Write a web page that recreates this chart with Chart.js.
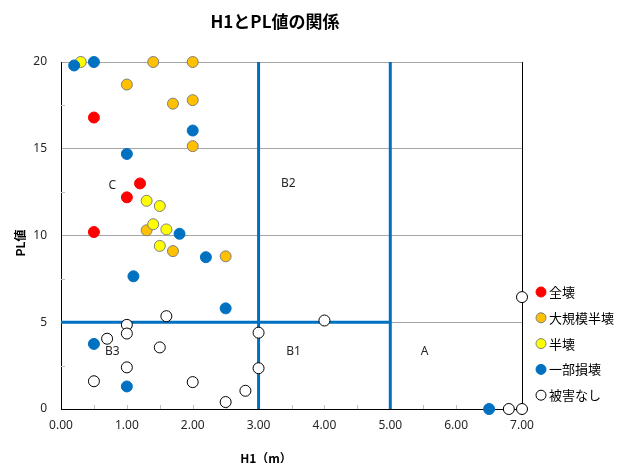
<!DOCTYPE html>
<html lang="ja">
<head>
<meta charset="utf-8">
<script src="https://cdn.jsdelivr.net/npm/chart.js@4/dist/chart.umd.min.js"></script>
<style>
  html, body { margin: 0; padding: 0; background: #fff; }
  #wrap { width: 625px; height: 463px; position: relative; }
</style>
</head>
<body>
<div id="wrap"><canvas id="c"></canvas></div>
<script>
// H1 (m) vs PL value, grouped by damage level
const seriesNames = ['全壊', '大規模半壊', '半壊', '一部損壊', '被害なし'];

const zenkai = [[0.5, 16.8], [1.2, 13.0], [1.0, 12.2], [0.5, 10.2]];
const daikiboHankai = [[1.4, 20], [2.0, 20], [1.0, 18.7], [1.7, 17.6], [2.0, 17.8], [2.0, 15.15], [1.3, 10.3], [1.7, 9.1], [2.5, 8.8]];
const hankai = [[0.3, 20], [1.3, 12.0], [1.5, 11.7], [1.4, 10.65], [1.6, 10.35], [1.5, 9.4]];
const ichibuSonkai = [[0.2, 19.8], [0.5, 20], [2.0, 16.05], [1.0, 14.7], [1.8, 10.1], [2.2, 8.75], [1.1, 7.65], [2.5, 5.8], [0.5, 3.75], [1.0, 1.3], [6.5, 0]];
const higaiNashi = [[1.6, 5.35], [1.0, 4.85], [1.0, 4.35], [0.7, 4.05], [1.5, 3.55], [3.0, 4.4], [1.0, 2.4], [3.0, 2.35], [0.5, 1.6], [2.0, 1.55], [2.8, 1.05], [2.5, 0.4], [4.0, 5.1], [7.0, 6.45], [6.8, 0], [7.0, 0]];

// zone boundaries (H1 = 3, H1 = 5, PL = 5)
const boundaryH1_3 = [[3, 0], [3, 20]];
const boundaryH1_5 = [[5, 0], [5, 20]];
const boundaryPL_5 = [[0, 5], [5, 5]];

// zone labels
const zoneLabels = [['C', 0.78, 12.9], ['B2', 3.45, 13.0], ['B3', 0.78, 3.3], ['B1', 3.53, 3.3], ['A', 5.52, 3.3]];

// axis ticks
const xTicks = [0, 1, 2, 3, 4, 5, 6, 7];
const yTicks = [0, 5, 10, 15, 20];

const fills = ['#FF0000', '#FFC000', '#FFFF00', '#0070C0', '#FFFFFF'];
const strokes = ['#FF0000', '#7F7F7F', '#7F7F7F', '#0070C0', '#000000'];
const seriesData = [zenkai, daikiboHankai, hankai, ichibuSonkai, higaiNashi];

const toPts = arr => arr.map(([x, y]) => ({ x, y }));

const pointSets = seriesData.map((d, i) => ({
  label: seriesNames[i],
  data: toPts(d),
  backgroundColor: fills[i],
  borderColor: strokes[i],
  borderWidth: 1,
  pointRadius: 5.5,
  pointHoverRadius: 5.5,
  showLine: false,
  clip: false,
  order: 5 - i
}));

const lineSets = [boundaryH1_3, boundaryH1_5, boundaryPL_5].map(d => ({
  label: '',
  data: toPts(d),
  borderColor: '#0070C0',
  backgroundColor: '#0070C0',
  borderWidth: 3,
  pointRadius: 0,
  showLine: true,
  clip: false,
  order: 20
}));

const JP = '"Noto Sans CJK JP", "Noto Sans", sans-serif';

const overlay = {
  id: 'overlay',
  beforeDatasetsDraw(chart) {
    const { ctx, scales: { x, y } } = chart;
    ctx.save();
    ctx.strokeStyle = '#BFBFBF';
    ctx.lineWidth = 1;
    // minor tick marks
    for (let v = 0.5; v < 7; v += 0.5) {
      const px = Math.round(x.getPixelForValue(v)) + 0.5;
      ctx.beginPath();
      ctx.moveTo(px, y.bottom - 4);
      ctx.lineTo(px, y.bottom);
      ctx.stroke();
    }
    for (let v = 2.5; v < 20; v += 5) {
      const py = Math.round(y.getPixelForValue(v)) + 0.5;
      ctx.beginPath();
      ctx.moveTo(x.left, py);
      ctx.lineTo(x.left + 4, py);
      ctx.stroke();
    }
    // zone labels
    ctx.fillStyle = '#262626';
    ctx.font = '12px "Noto Sans", sans-serif';
    ctx.textAlign = 'center';
    ctx.textBaseline = 'middle';
    zoneLabels.forEach(([t, vx, vy]) => {
      ctx.fillText(t, x.getPixelForValue(vx), y.getPixelForValue(vy));
    });
    ctx.restore();
  },
  afterDraw(chart) {
    const { ctx, chartArea: a } = chart;
    ctx.save();
    ctx.fillStyle = '#000';
    // title
    ctx.font = 'bold 17px ' + JP;
    ctx.textAlign = 'center';
    ctx.textBaseline = 'middle';
    ctx.fillText('H1とPL値の関係', 275, 22);
    // axis titles
    ctx.font = 'bold 12px ' + JP;
    ctx.fillText('H1（m）', 266, 458);
    ctx.save();
    ctx.translate(20, 243);
    ctx.rotate(-Math.PI / 2);
    ctx.fillText('PL値', 0, 0);
    ctx.restore();
    // legend
    const ly0 = 292, step = 25.8;
    ctx.font = '13px ' + JP;
    ctx.textAlign = 'left';
    seriesNames.forEach((name, i) => {
      const cy = ly0 + i * step;
      ctx.beginPath();
      ctx.arc(541, cy, 5, 0, Math.PI * 2);
      ctx.fillStyle = fills[i];
      ctx.fill();
      ctx.lineWidth = 1;
      ctx.strokeStyle = strokes[i];
      ctx.stroke();
      ctx.fillStyle = '#000';
      ctx.fillText(name, 549, cy);
    });
    ctx.restore();
  }
};

new Chart(document.getElementById('c'), {
  type: 'scatter',
  data: { datasets: [...pointSets, ...lineSets] },
  options: {
    responsive: true,
    maintainAspectRatio: false,
    animation: false,
    layout: { padding: { left: 0, top: 62, right: 103, bottom: 0 } },
    plugins: {
      legend: { display: false },
      title: { display: false },
      tooltip: { enabled: false }
    },
    scales: {
      x: {
        type: 'linear',
        min: 0,
        max: 7,
        afterBuildTicks: s => { s.ticks = xTicks.map(v => ({ value: v })); },
        afterFit: s => { s.height = 54; },
        ticks: {
          padding: 9,
          color: '#262626',
          font: { family: '"Noto Sans", sans-serif', size: 12 },
          callback: v => Number(v).toFixed(2)
        },
        grid: {
          drawTicks: false,
          lineWidth: 1,
          color: c => (c.tick && c.tick.value === 7 ? '#000000' : 'rgba(0,0,0,0)')
        },
        border: { display: true, color: '#000000', width: 1 }
      },
      y: {
        type: 'linear',
        min: 0,
        max: 20,
        afterBuildTicks: s => { s.ticks = yTicks.map(v => ({ value: v })); },
        afterFit: s => { s.width = 61; },
        ticks: {
          padding: 14,
          color: '#262626',
          font: { family: '"Noto Sans", sans-serif', size: 12 }
        },
        grid: {
          drawTicks: false,
          lineWidth: 1,
          color: c => (c.tick && c.tick.value === 0 ? 'rgba(0,0,0,0)' : '#A6A6A6')
        },
        border: { display: true, color: '#000000', width: 1 }
      }
    }
  },
  plugins: [overlay]
});
</script>
</body>
</html>
